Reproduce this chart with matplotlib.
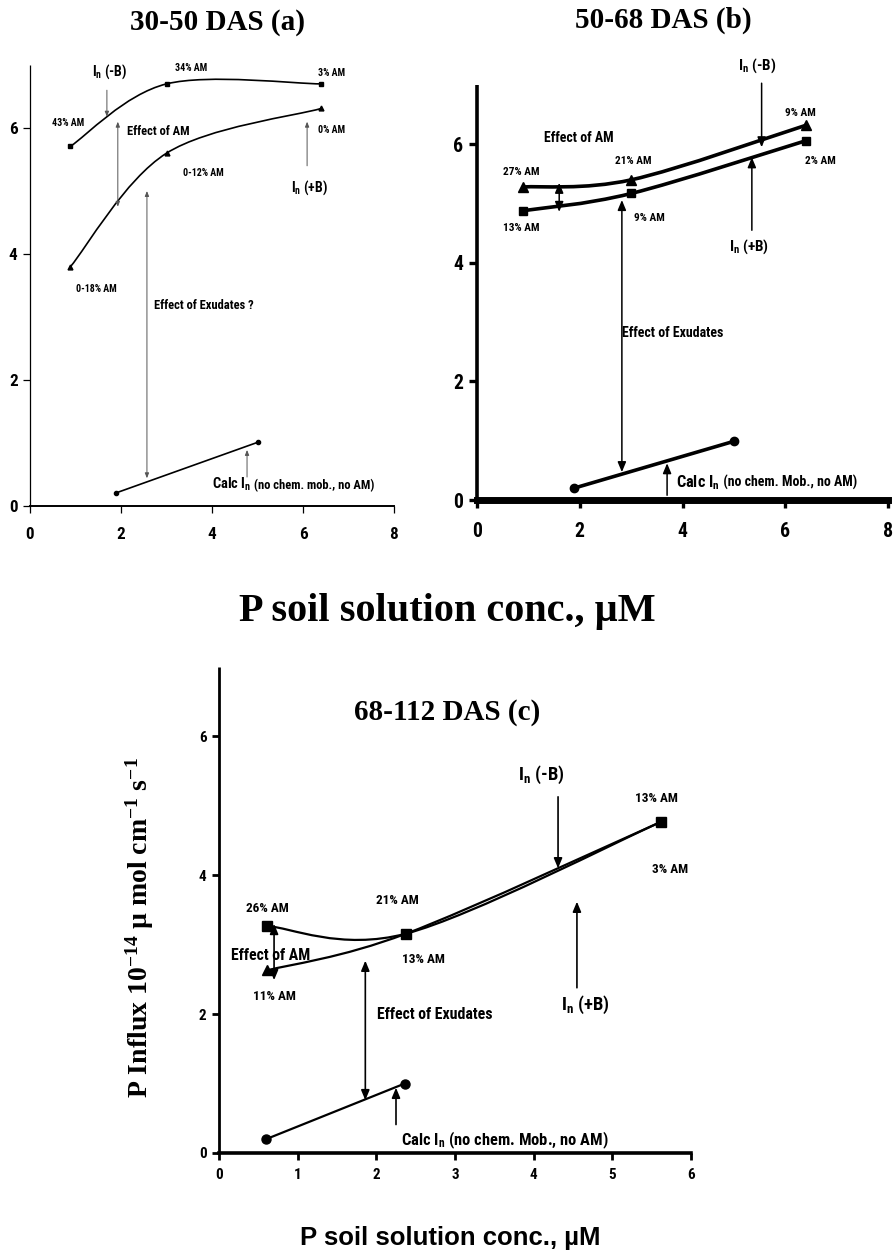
import matplotlib
matplotlib.use('Agg')
import matplotlib.pyplot as plt
from matplotlib.path import Path
from matplotlib.patches import PathPatch
from matplotlib import font_manager as fm
import numpy as np

# ---------------- data ----------------
# Panel (a) 30-50 DAS
a_x = [0.89, 3.0, 6.4]
a_minusB = [5.71, 6.70, 6.70]
a_plusB = [3.80, 5.60, 6.31]
a_calc_x = [1.9, 5.0]
a_calc = [0.21, 1.01]

# Panel (b) 50-68 DAS
b_x = [0.9, 3.0, 6.4]
b_minusB = [5.28, 5.40, 6.32]
b_plusB = [4.88, 5.17, 6.06]
b_calc_x = [1.89, 5.0]
b_calc = [0.20, 0.99]

# Panel (c) 68-112 DAS
c_x = [0.61, 2.38, 5.62]
c_sq = [3.27, 3.16, 4.77]
c_tri = [2.63, 3.16, 4.77]
c_calc_x = [0.60, 2.36]
c_calc = [0.20, 1.00]

ab_xticks = [0, 2, 4, 6, 8]
c_xticks = [0, 1, 2, 3, 4, 5, 6]
y_ticks = [0, 2, 4, 6]

# ---------------- fonts ----------------
def has_font(name):
    try:
        fm.findfont(fm.FontProperties(family=name), fallback_to_default=False)
        return True
    except Exception:
        return False

SANS = None
K = 1.0
for name, k in [('Liberation Sans Narrow', 1.0), ('Arial Narrow', 1.0),
                ('Roboto Condensed', 0.95), ('Archivo Narrow', 1.0),
                ('PT Sans Narrow', 1.0)]:
    if has_font(name):
        SANS = [name, 'Liberation Sans', 'DejaVu Sans']
        K = k
        break
if SANS is None:
    SANS = ['Liberation Sans', 'DejaVu Sans']
    K = 0.86
SERIF = ['Liberation Serif', 'DejaVu Serif']
ARIAL = ['Liberation Sans', 'DejaVu Sans']

plt.rcParams['font.family'] = SANS
plt.rcParams['font.weight'] = 'bold'
plt.rcParams['mathtext.default'] = 'regular'

fig = plt.figure(figsize=(8.93, 12.57), dpi=100)
W, H = 893, 1257

def smooth_path(x, y, t=1/6):
    P = np.column_stack([x, y]).astype(float)
    n = len(P)
    verts = [P[0]]
    codes = [Path.MOVETO]
    for i in range(n - 1):
        p0 = P[i - 1] if i > 0 else P[i]
        p1 = P[i]
        p2 = P[i + 1]
        p3 = P[i + 2] if i + 2 < n else P[i + 1]
        verts += [p1 + (p2 - p0) * t, p2 - (p3 - p1) * t, p2]
        codes += [Path.CURVE4] * 3
    return Path(verts, codes)

def smooth_line(ax, x, y, lw):
    ax.add_patch(PathPatch(smooth_path(x, y), fill=False, lw=lw, ec='black',
                           transform=ax.transData, capstyle='round', joinstyle='round'))

def arrow(ax, x, y0, y1, both=False, color='black', lw=1.2, hw=0.25, hl=0.6):
    if both:
        style = f'<|-|>,head_width={hw},head_length={hl}'
    else:
        style = f'-|>,head_width={hw},head_length={hl}'
    ax.annotate('', xy=(x, y1), xytext=(x, y0),
                arrowprops=dict(arrowstyle=style, color=color, lw=lw,
                                shrinkA=0, shrinkB=0),
                annotation_clip=False)

def txt(ax, x, y, s, size, ha='center', va='center'):
    return ax.text(x, y, s, fontsize=size * K, ha=ha, va=va, fontweight='bold',
                   family=SANS, clip_on=False)

def calc_label(ax, x, y, s1, s2, size1, size2):
    t1 = ax.text(x, y, s1, fontsize=size1 * K, ha='left', va='baseline',
                 fontweight='bold', family=SANS)
    r = fig.canvas.get_renderer()
    bb = t1.get_window_extent(r)
    xd, _ = ax.transData.inverted().transform((bb.x1, 0))
    ax.text(xd, y, s2, fontsize=size2 * K, ha='left', va='baseline',
            fontweight='bold', family=SANS)

def style_axes(ax, xlim, xticks, lw_left, lw_bottom, tick_lw, tick_len, tick_size, xpad=4):
    ax.set_xlim(*xlim)
    ax.set_ylim(0, 7)
    ax.set_xticks(xticks)
    ax.set_yticks(y_ticks)
    ax.spines['top'].set_visible(False)
    ax.spines['right'].set_visible(False)
    ax.spines['left'].set_linewidth(lw_left)
    ax.spines['bottom'].set_linewidth(lw_bottom)
    ax.spines['left'].set_capstyle('butt')
    ax.tick_params(direction='out', width=tick_lw, length=tick_len,
                   labelsize=tick_size * K, pad=4)
    ax.tick_params(axis='x', pad=xpad)
    for lab in ax.get_xticklabels() + ax.get_yticklabels():
        lab.set_fontweight('bold')
        lab.set_family(SANS)
    ax.patch.set_alpha(0)

# ---------------- panel (a) ----------------
axA = fig.add_axes([30 / W, 1 - 506 / H, 364 / W, 441 / H])
style_axes(axA, (0, 8), ab_xticks, 0.9, 1.4, 0.9, 5, 13, xpad=10)
smooth_line(axA, a_x, a_minusB, 1.2)
smooth_line(axA, a_x, a_plusB, 1.2)
axA.plot(a_x, a_minusB, ls='none', marker='s', ms=3, color='black')
axA.plot(a_x, a_plusB, ls='none', marker='^', ms=3.5, color='black')
axA.plot(a_calc_x, a_calc, color='black', lw=1.2, marker='o', ms=3)

g = '#555555'
arrow(axA, 1.69, 6.60, 6.18, color=g, lw=0.7, hw=0.12, hl=0.3)
arrow(axA, 1.93, 4.75, 6.10, both=True, color=g, lw=0.7, hw=0.12, hl=0.3)
arrow(axA, 6.09, 5.40, 6.10, color=g, lw=0.7, hw=0.12, hl=0.3)
arrow(axA, 2.57, 0.44, 5.00, both=True, color=g, lw=0.7, hw=0.12, hl=0.3)
arrow(axA, 4.77, 0.46, 0.89, color=g, lw=0.7, hw=0.12, hl=0.3)

txt(axA, 0.84, 6.08, '43% AM', 7.5)
txt(axA, 1.76, 6.89, 'I$_n$ (-B)', 10.5)
txt(axA, 3.55, 6.95, '34% AM', 7.5)
txt(axA, 6.63, 6.87, '3% AM', 7.5)
txt(axA, 2.13, 5.94, 'Effect of AM', 9.5, ha='left')
txt(axA, 6.63, 5.97, '0% AM', 7.5)
txt(axA, 3.80, 5.28, '0-12% AM', 7.5)
txt(axA, 6.15, 5.05, 'I$_n$ (+B)', 10.5)
txt(axA, 1.45, 3.44, '0-18% AM', 7.5)
txt(axA, 2.73, 3.19, 'Effect of Exudates ?', 9.5, ha='left')
calc_label(axA, 4.0, 0.27, 'Calc I$_n$', ' (no chem. mob., no AM)', 11, 9.5)

# ---------------- panel (b) ----------------
axB = fig.add_axes([477 / W, 1 - 500 / H, 411 / W, 415 / H])
style_axes(axB, (0, 8), ab_xticks, 2.6, 5.0, 2.4, 6, 15, xpad=10)
smooth_line(axB, b_x, b_minusB, 2.6)
smooth_line(axB, b_x, b_plusB, 2.6)
axB.plot(b_x, b_minusB, ls='none', marker='^', ms=6.5, color='black')
axB.plot(b_x, b_plusB, ls='none', marker='s', ms=5.5, color='black')
axB.plot(b_calc_x, b_calc, color='black', lw=2.6, marker='o', ms=6, solid_capstyle='round')

arrow(axB, 5.54, 7.03, 5.95, lw=1.1)
arrow(axB, 5.35, 4.55, 5.78, lw=1.1)
arrow(axB, 1.60, 4.86, 5.35, both=True, lw=1.1)
arrow(axB, 2.82, 0.47, 5.06, both=True, lw=1.1)
arrow(axB, 3.70, 0.08, 0.62, lw=1.1)

txt(axB, 0.86, 5.53, '27% AM', 8.5)
txt(axB, 1.98, 6.10, 'Effect of AM', 10.5)
txt(axB, 3.04, 5.72, '21% AM', 8.5)
txt(axB, 6.30, 6.53, '9% AM', 8.5)
txt(axB, 6.68, 5.72, '2% AM', 8.5)
txt(axB, 0.86, 4.58, '13% AM', 8.5)
txt(axB, 3.35, 4.75, '9% AM', 8.5)
txt(axB, 5.45, 7.33, 'I$_n$ (-B)', 11.5)
txt(axB, 5.29, 4.27, 'I$_n$ (+B)', 11.5)
txt(axB, 2.82, 2.82, 'Effect of Exudates', 10.5, ha='left')
calc_label(axB, 3.87, 0.22, 'Calc I$_n$', ' (no chem. Mob., no AM)', 12.3, 10.5)

# ---------------- panel (c) ----------------
axC = fig.add_axes([219 / W, 1 - 1153 / H, 472 / W, 486 / H])
style_axes(axC, (0, 6), c_xticks, 2.0, 2.6, 2.0, 5, 11.5, xpad=6)
smooth_line(axC, c_x, c_sq, 1.6)
smooth_line(axC, c_x, c_tri, 1.6)
axC.plot(c_x, c_sq, ls='none', marker='s', ms=6.5, color='black')
axC.plot(c_x[:1], c_tri[:1], ls='none', marker='^', ms=7, color='black')
axC.plot(c_calc_x, c_calc, color='black', lw=1.6, marker='o', ms=6.5)

arrow(axC, 4.31, 5.13, 4.10, lw=1.2)
arrow(axC, 4.55, 2.38, 3.62, lw=1.2)
arrow(axC, 0.70, 2.49, 3.30, both=True, lw=1.2)
arrow(axC, 1.86, 0.76, 2.77, both=True, lw=1.2)
arrow(axC, 2.25, 0.41, 0.94, lw=1.2)

axC.text(2.9, 6.35, '68-112 DAS (c)', family=SERIF, fontweight='bold',
         fontsize=21, ha='center', va='center')
txt(axC, 4.10, 5.45, 'I$_n$ (-B)', 14)
txt(axC, 5.56, 5.11, '13% AM', 10)
txt(axC, 5.73, 4.09, '3% AM', 10)
txt(axC, 4.65, 2.13, 'I$_n$ (+B)', 14)
txt(axC, 0.61, 3.52, '26% AM', 10)
txt(axC, 2.27, 3.63, '21% AM', 10)
txt(axC, 0.15, 2.84, 'Effect of AM', 12, ha='left')
txt(axC, 2.60, 2.78, '13% AM', 10)
txt(axC, 0.71, 2.26, '11% AM', 10)
txt(axC, 2.01, 2.00, 'Effect of Exudates', 12, ha='left')
txt(axC, 2.31, 0.19, 'Calc I$_n$ (no chem. Mob., no AM)', 12.5, ha='left')

# ---------------- figure texts ----------------
fig.text(217 / W, 1 - 22 / H, '30-50 DAS (a)', family=SERIF, fontweight='bold',
         fontsize=21, ha='center', va='center')
fig.text(663 / W, 1 - 20 / H, '50-68 DAS (b)', family=SERIF, fontweight='bold',
         fontsize=21, ha='center', va='center')
fig.text(447 / W, 1 - 612 / H, 'P soil solution conc., µM', family=SERIF,
         fontweight='bold', fontsize=29, ha='center', va='center')
fig.text(140 / W, 1 - 928 / H,
         'P Influx 10$^{-14}$ µ mol cm$^{-1}$ s$^{-1}$', family=SERIF,
         fontweight='bold', fontsize=20, ha='center', va='center', rotation=90)
fig.text(450 / W, 1 - 1238 / H, 'P soil solution conc., µM', family=ARIAL,
         fontweight='bold', fontsize=18.5, ha='center', va='center')

fig.savefig('out.png', dpi=100)
